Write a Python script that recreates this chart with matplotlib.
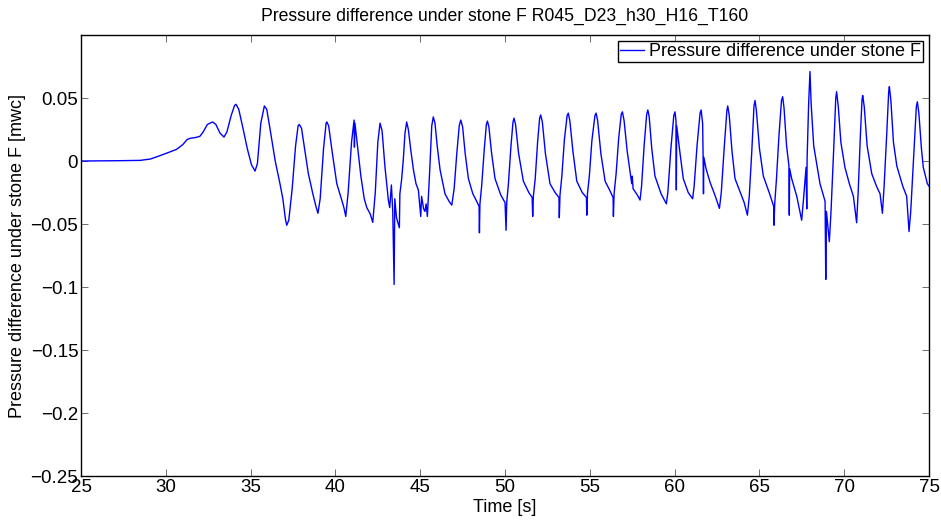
import matplotlib
matplotlib.use('Agg')
import matplotlib.pyplot as plt

plt.rcParams['font.family'] = ['Liberation Sans', 'DejaVu Sans']

# values (time [s], pressure difference [mwc])
time = [25.0, 27.0, 28.5, 29.1, 29.6, 30.2, 30.64, 31.0, 31.25, 31.43,
        31.7, 32.0, 32.2, 32.45, 32.76, 32.95, 33.2, 33.43, 33.6, 33.85,
        34.05, 34.14, 34.3, 34.55, 34.8, 35.05, 35.26, 35.4, 35.6, 35.81,
        35.95, 36.15, 36.45, 36.73, 36.9, 37.05, 37.13, 37.25, 37.45, 37.65,
        37.8, 37.87, 38.0, 38.2, 38.4, 38.65, 38.85, 38.97, 39.1, 39.3,
        39.45, 39.49, 39.6, 39.8, 40.08, 40.35, 40.5, 40.61, 40.75, 40.95,
        41.10, 41.12, 41.15, 41.3, 41.5, 41.7, 41.85, 42.05, 42.2, 42.35,
        42.5, 42.63, 42.75, 42.92, 43.12, 43.2, 43.3, 43.38, 43.46, 43.5,
        43.6, 43.77, 43.8, 43.9, 44.0, 44.1, 44.2, 44.3, 44.45, 44.6,
        44.75, 44.89, 44.95, 45.03, 45.08, 45.2, 45.28, 45.35, 45.42, 45.55,
        45.68, 45.77, 45.87, 46.0, 46.17, 46.46, 46.7, 46.86, 47.0, 47.15,
        47.3, 47.39, 47.5, 47.65, 47.84, 48.1, 48.33, 48.47, 48.49, 48.52,
        48.62, 48.78, 48.9, 48.96, 49.05, 49.2, 49.41, 49.75, 50.0, 50.06,
        50.1, 50.2, 50.35, 50.47, 50.53, 50.62, 50.8, 51.08, 51.4, 51.6,
        51.63, 51.67, 51.78, 51.92, 52.04, 52.10, 52.2, 52.38, 52.65, 52.95,
        53.18, 53.2, 53.24, 53.35, 53.5, 53.66, 53.73, 53.82, 54.0, 54.23,
        54.55, 54.8, 54.82, 54.86, 54.97, 55.12, 55.3, 55.37, 55.46, 55.65,
        55.9, 56.2, 56.37, 56.39, 56.43, 56.55, 56.7, 56.85, 56.92, 57.02,
        57.2, 57.47, 57.5, 57.55, 57.8, 57.96, 58.05, 58.2, 58.35, 58.42,
        58.5, 58.65, 58.84, 59.2, 59.51, 59.6, 59.78, 59.95, 60.02, 60.08,
        60.1, 60.12, 60.3, 60.51, 60.8, 61.06, 61.15, 61.32, 61.5, 61.56,
        61.65, 61.68, 61.7, 61.72, 61.85, 62.09, 62.4, 62.64, 62.75, 62.92,
        63.08, 63.13, 63.22, 63.38, 63.56, 63.9, 64.1, 64.29, 64.4, 64.55,
        64.68, 64.74, 64.82, 65.0, 65.23, 65.6, 65.84, 65.86, 65.9, 66.0,
        66.15, 66.3, 66.37, 66.45, 66.6, 66.74, 66.76, 66.78, 66.9, 67.2,
        67.49, 67.6, 67.75, 67.79, 67.81, 67.9, 67.98, 68.05, 68.2, 68.57,
        68.87, 68.91, 68.95, 69.12, 69.22, 69.38, 69.5, 69.55, 69.65, 69.8,
        70.04, 70.3, 70.54, 70.73, 70.82, 70.95, 71.05, 71.09, 71.18, 71.35,
        71.62, 71.9, 72.11, 72.25, 72.35, 72.5, 72.62, 72.66, 72.75, 72.9,
        73.1, 73.45, 73.68, 73.82, 73.92, 74.08, 74.25, 74.31, 74.4, 74.55,
        74.66, 74.9, 75.0]
dp = [0.0, 0.0002, 0.0005, 0.0016, 0.004, 0.007, 0.0093, 0.013, 0.017, 0.018,
      0.0185, 0.0195, 0.023, 0.029, 0.031, 0.029, 0.022, 0.019, 0.023, 0.036,
      0.044, 0.045, 0.041, 0.026, 0.010, -0.003, -0.008, -0.002, 0.030, 0.0437,
      0.041, 0.025, 0.000, -0.018, -0.030, -0.046, -0.051, -0.047, -0.022, 0.012,
      0.028, 0.029, 0.026, 0.008, -0.0098, -0.025, -0.036, -0.0415, -0.030, 0.010,
      0.030, 0.031, 0.028, 0.008, -0.018, -0.030, -0.037, -0.044, -0.025, 0.015,
      0.0325, 0.011, 0.030, 0.012, -0.012, -0.030, -0.037, -0.042, -0.0487, -0.025,
      0.015, 0.030, 0.024, -0.0045, -0.031, -0.037, -0.019, -0.040, -0.098, -0.030,
      -0.045, -0.053, -0.026, -0.015, 0.0008, 0.022, 0.031, 0.025, 0.008, -0.007,
      -0.018, -0.023, -0.032, -0.044, -0.028, -0.038, -0.040, -0.034, -0.044, -0.010,
      0.028, 0.035, 0.030, 0.012, -0.007, -0.026, -0.032, -0.035, -0.022, 0.005,
      0.028, 0.0325, 0.027, 0.006, -0.014, -0.026, -0.032, -0.036, -0.057, -0.034,
      -0.020, 0.010, 0.029, 0.0317, 0.027, 0.007, -0.014, -0.027, -0.033, -0.055,
      -0.033, -0.018, 0.012, 0.031, 0.034, 0.029, 0.006, -0.016, -0.025, -0.029,
      -0.044, -0.028, -0.014, 0.015, 0.034, 0.0365, 0.031, 0.006, -0.018, -0.025,
      -0.029, -0.045, -0.027, -0.012, 0.017, 0.036, 0.038, 0.032, 0.008, -0.016,
      -0.025, -0.029, -0.043, -0.026, -0.012, 0.016, 0.036, 0.038, 0.032, 0.006,
      -0.016, -0.024, -0.029, -0.044, -0.026, -0.010, 0.018, 0.037, 0.039, 0.032,
      0.008, -0.018, -0.012, -0.022, -0.027, -0.031, -0.020, 0.012, 0.037, 0.0405,
      0.035, 0.010, -0.012, -0.026, -0.034, -0.025, 0.010, 0.036, 0.039, 0.032,
      -0.023, 0.028, 0.008, -0.014, -0.025, -0.030, -0.020, 0.012, 0.038, 0.0405,
      0.030, 0.002, -0.026, 0.003, -0.006, -0.017, -0.028, -0.0376, -0.025, 0.010,
      0.040, 0.0437, 0.036, 0.008, -0.014, -0.026, -0.033, -0.043, -0.028, 0.008,
      0.044, 0.048, 0.040, 0.010, -0.012, -0.026, -0.036, -0.051, -0.034, -0.015,
      0.020, 0.048, 0.051, 0.042, 0.012, -0.004, -0.043, -0.006, -0.014, -0.028,
      -0.047, -0.030, -0.005, -0.038, 0.002, 0.045, 0.071, 0.045, 0.012, -0.018,
      -0.032, -0.094, -0.040, -0.064, -0.040, 0.010, 0.050, 0.055, 0.043, 0.015,
      -0.005, -0.018, -0.028, -0.049, -0.025, 0.020, 0.049, 0.052, 0.043, 0.012,
      -0.010, -0.020, -0.026, -0.0415, -0.020, 0.020, 0.055, 0.059, 0.048, 0.015,
      -0.004, -0.020, -0.028, -0.056, -0.040, 0.000, 0.043, 0.047, 0.038, 0.010,
      -0.005, -0.018, -0.020]

xticks = [25, 30, 35, 40, 45, 50, 55, 60, 65, 70, 75]
yticks = [-0.25, -0.2, -0.15, -0.1, -0.05, 0, 0.05]
ytick_labels = ['\u22120.25', '\u22120.2', '\u22120.15', '\u22120.1', '\u22120.05', '0', '0.05']

fig = plt.figure(figsize=(9.41, 5.24), dpi=100)
ax = fig.add_axes([0.0861, 0.0916, 0.9012, 0.8416])

ax.plot(time, dp, color='#0000ff', lw=1.0, label='Pressure difference under stone F')

ax.set_xlim(25, 75)
ax.set_ylim(-0.25, 0.1)
ax.set_xticks(xticks)
ax.set_yticks(yticks)
ax.set_yticklabels(ytick_labels)
ax.tick_params(direction='in', length=5, width=0.6, top=True, right=True,
               labelsize=13.5, pad=2, color='#555555')
for s in ax.spines.values():
    s.set_linewidth(1.0)

ax.set_title('Pressure difference under stone F R045_D23_h30_H16_T160', fontsize=12.7, pad=10)
ax.set_xlabel('Time [s]', fontsize=13, labelpad=2)
ax.set_ylabel('Pressure difference under stone F [mwc]', fontsize=13, labelpad=3)

leg = ax.legend(loc='upper right', fontsize=13, fancybox=False, framealpha=1,
                edgecolor='black', handlelength=1.3, handletextpad=0.3,
                borderpad=0.1, borderaxespad=0.35)
leg.get_frame().set_linewidth(1.0)

fig.savefig('out.png', dpi=100)
